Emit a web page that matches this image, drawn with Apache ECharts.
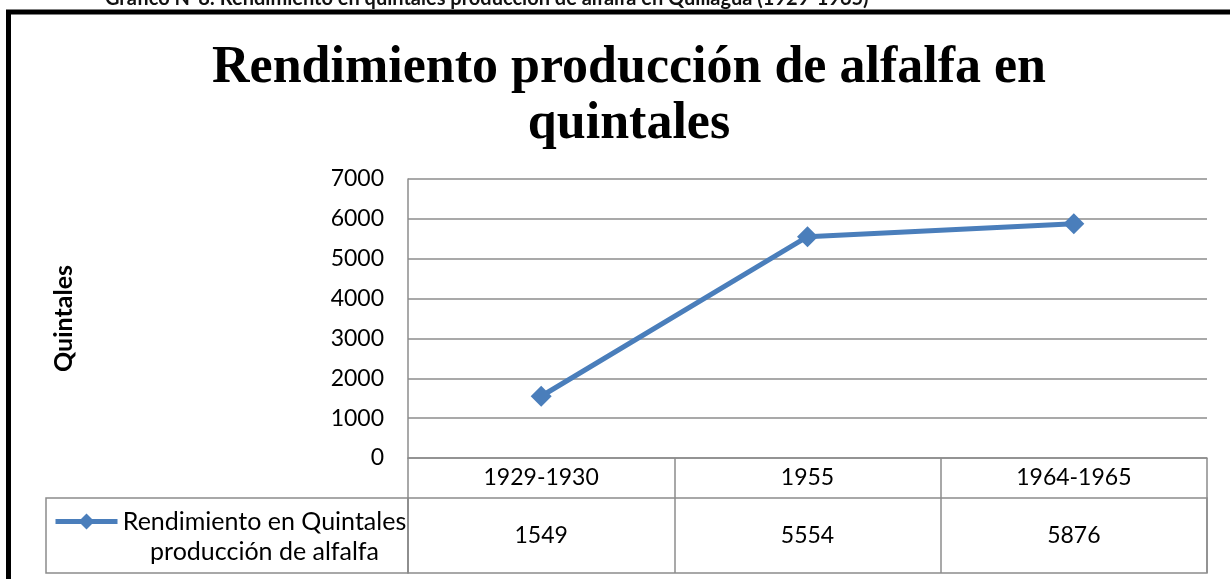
<!DOCTYPE html>
<html>
<head>
<meta charset="utf-8">
<script src="https://cdn.jsdelivr.net/npm/echarts@6/dist/echarts.min.js"></script>
<style>
  html, body { margin: 0; padding: 0; background: #fff; }
  #chart { width: 1230px; height: 579px; }
</style>
</head>
<body>
<div id="chart"></div>
<script>
// data
const categories = ['1929-1930', '1955', '1964-1965']
const rendimiento = [1549, 5554, 5876]
const seriesName = 'Rendimiento en Quintales producción de alfalfa'
const legendLines = ['Rendimiento en Quintales', 'producción de alfalfa']
const yMin = 0
const yMax = 7000
const yStep = 1000

const caption = 'Gráfico N°8: Rendimiento en quintales producción de alfalfa en Quillagua (1929-1965)'
const chartTitle = 'Rendimiento producción de alfalfa en\nquintales'

const sans = 'Lato, "Open Sans", sans-serif'
const gridGray = '#8c8c8c'
const lineBlue = '#4a7ebb'

const chart = echarts.init(document.getElementById('chart'))

const option = {
  backgroundColor: '#fff',
  animation: false,
  title: {
    text: chartTitle,
    left: 624,
    top: 36,
    textAlign: 'center',
    textStyle: {
      fontFamily: '"Liberation Serif", serif',
      fontWeight: 'bold',
      fontSize: 52,
      lineHeight: 56,
      color: '#000'
    }
  },
  legend: {
    data: [seriesName],
    left: 48,
    top: 504,
    itemWidth: 62,
    itemHeight: 20,
    selectedMode: false,
    lineStyle: { width: 5 },
    formatter: () => '{a|' + legendLines[0] + '}\n{a|' + legendLines[1] + '}',
    textStyle: {
      padding: [30, 0, 0, 0],
      rich: {
        a: { fontFamily: sans, fontSize: 25, lineHeight: 30, color: '#000', width: 284, align: 'center' }
      }
    }
  },
  grid: [
    { left: 408, right: 23, top: 179, bottom: 121 },
    { left: 408, right: 23, top: 498, bottom: 6, show: true, borderColor: gridGray, borderWidth: 1.5 },
    { left: 46, width: 362, top: 498, bottom: 6, show: true, borderColor: gridGray, borderWidth: 1.5 }
  ],
  xAxis: [
    {
      type: 'category',
      data: categories,
      boundaryGap: true,
      axisLine: { lineStyle: { color: gridGray, width: 1.5 } },
      axisTick: { show: true, length: 40, alignWithLabel: false, lineStyle: { color: gridGray, width: 1.5 } },
      axisLabel: {
        margin: 0,
        verticalAlign: 'top',
        formatter: (v, i) => '{c|' + v + '}\n{v|' + rendimiento[i] + '}',
        rich: {
          c: { fontFamily: sans, fontSize: 23, lineHeight: 40, color: '#000' },
          v: { fontFamily: sans, fontSize: 23, lineHeight: 76, color: '#000' }
        }
      },
      splitLine: { show: false }
    },
    {
      gridIndex: 1,
      type: 'category',
      data: categories,
      boundaryGap: true,
      axisLine: { show: false },
      axisTick: { show: false },
      axisLabel: { show: false },
      splitLine: { show: true, lineStyle: { color: gridGray, width: 1.5 } }
    },
    {
      gridIndex: 2,
      type: 'value',
      show: false
    }
  ],
  yAxis: [
    {
      type: 'value',
      min: yMin,
      max: yMax,
      interval: yStep,
      name: 'Quintales',
      nameLocation: 'middle',
      nameRotate: 90,
      nameGap: 332,
      nameTextStyle: { fontFamily: sans, fontSize: 25, fontWeight: 'bold', color: '#000' },
      axisLine: { show: true, lineStyle: { color: gridGray, width: 1.5 } },
      axisTick: { show: false },
      axisLabel: { margin: 24, fontFamily: sans, fontSize: 23, color: '#000', formatter: v => String(v) },
      splitLine: { lineStyle: { color: gridGray, width: 1.5 } }
    },
    { gridIndex: 1, type: 'value', show: false, splitLine: { show: false } },
    { gridIndex: 2, type: 'value', show: false, splitLine: { show: false } }
  ],
  series: [
    {
      name: seriesName,
      type: 'line',
      data: rendimiento,
      symbol: 'diamond',
      symbolSize: 21,
      color: lineBlue,
      itemStyle: { color: lineBlue },
      lineStyle: { color: lineBlue, width: 5 }
    }
  ],
  graphic: [
    {
      type: 'text',
      left: 105,
      top: -11,
      style: {
        text: caption,
        font: 'bold 20px ' + sans,
        fill: '#111'
      }
    },
    {
      type: 'rect',
      shape: { x: 8.5, y: 12, width: 1260, height: 620 },
      style: { fill: 'none', stroke: '#000', lineWidth: 5 },
      z: 10
    }
  ]
}

chart.setOption(option)
</script>
</body>
</html>
